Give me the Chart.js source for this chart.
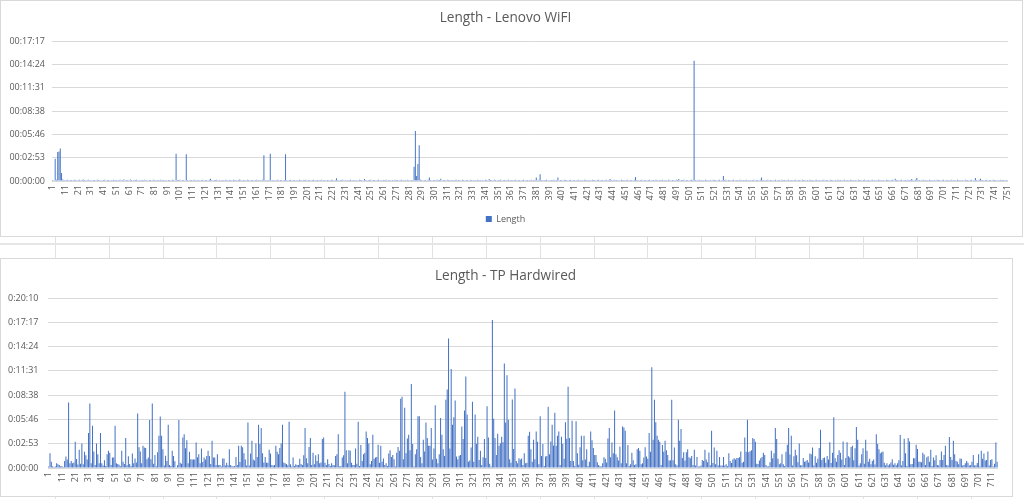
<!DOCTYPE html>
<html>
<head>
<meta charset="utf-8">
<title>Length - Lenovo WiFI / TP Hardwired</title>
<script src="https://cdn.jsdelivr.net/npm/chart.js@4.4.0/dist/chart.umd.min.js"></script>
<style>
    html, body { margin: 0; padding: 0; background: #fff; }
    body { width: 1024px; height: 499px; overflow: hidden; position: relative; }
    .sheet-v { position: absolute; top: 0; width: 1px; height: 499px; background: #e1e1e1; }
    .sheet-h { position: absolute; left: 0; width: 1024px; background: #e6e6e6; }
    .chart-box { position: absolute; box-sizing: border-box; border: 1px solid #d9d9d9; background: #fff; }
    canvas { position: absolute; left: 0; }
</style>
</head>
<body>
<div class="sheet-h" style="top:243px;height:2px"></div>
<div class="chart-box" style="left:0;top:0;width:1023px;height:237px"></div>
<div class="chart-box" style="left:0;top:258px;width:1013px;height:239px"></div>
<canvas id="wifiChart" width="1022" height="236" style="top:0"></canvas>
<canvas id="wiredChart" width="1012" height="238" style="top:258px"></canvas>

<script>
// ---- data (seconds) ----
const wifiLength = [
    7,6,165,9,215,218,240,60,12,8,6,7,9,6,8,7,6,10,7,6,8,9,6,7,12,
    8,6,7,9,6,7,6,8,7,6,9,7,6,8,6,7,9,6,7,8,6,7,6,9,7,
    8,6,7,9,6,7,11,6,8,7,6,11,7,6,8,7,9,6,7,6,8,7,9,6,7,
    6,8,7,6,9,7,6,8,7,6,9,7,8,6,7,6,8,7,6,9,7,6,202,8,7,
    9,6,7,8,6,198,7,6,8,7,6,9,7,6,8,7,6,7,9,6,8,7,6,9,16,
    7,6,8,7,9,6,7,6,8,7,6,9,7,6,8,7,6,9,7,8,6,7,12,7,6,
    8,7,6,9,7,6,8,7,6,7,9,6,7,8,6,9,190,7,6,8,7,202,6,7,8,
    6,7,9,6,8,7,6,7,198,8,6,7,9,6,7,8,6,7,6,9,7,6,8,7,9,
    6,7,8,6,7,9,6,8,7,6,7,9,6,8,7,6,7,8,6,9,7,6,8,20,7,
    6,8,7,9,6,7,6,8,7,9,6,7,8,6,7,6,9,7,8,6,14,7,6,8,7,
    9,6,7,8,6,7,9,6,7,6,8,7,9,6,7,8,6,7,6,9,7,8,6,7,9,
    6,7,8,6,9,7,6,8,7,106,371,37,126,265,9,7,6,8,7,6,9,25,7,6,8,
    7,6,9,7,8,16,6,7,8,6,9,7,6,8,7,6,7,9,6,8,7,6,9,7,6,
    8,7,6,9,7,6,8,7,6,9,7,8,6,7,6,9,7,6,14,8,7,6,9,7,6,
    8,7,9,6,7,8,6,7,9,6,8,7,6,7,9,6,8,7,6,7,9,6,8,7,6,
    7,9,6,8,7,25,6,9,50,7,6,8,7,9,6,7,6,8,7,9,6,7,25,6,8,
    7,6,9,7,8,6,7,9,6,8,7,6,7,9,6,8,7,6,9,7,8,6,7,6,9,
    7,8,6,7,9,6,8,7,6,7,9,6,8,14,7,6,9,7,8,6,7,6,9,7,8,
    6,7,9,6,8,7,6,9,30,7,8,6,7,9,6,8,7,6,7,9,6,8,7,6,9,
    7,6,8,7,9,6,7,8,6,9,7,6,8,7,6,9,7,14,6,8,7,9,6,7,8,
    6,7,9,7,890,8,6,7,9,6,8,7,6,9,7,8,6,7,6,9,7,8,6,7,9,
    6,8,37,7,9,6,7,8,6,7,9,6,8,7,6,9,7,6,8,7,9,6,7,8,6,
    7,9,6,8,7,6,9,25,7,8,6,7,9,6,8,7,6,7,9,6,8,7,6,9,7,
    8,6,7,9,6,8,7,6,7,9,6,8,7,6,9,7,8,6,7,6,9,7,8,6,7,
    9,6,8,7,6,7,9,6,8,7,6,9,7,8,6,7,6,9,7,8,6,7,9,6,8,
    7,6,9,7,8,6,7,6,9,7,8,6,7,9,6,8,7,6,7,9,6,8,7,6,9,
    7,8,6,7,6,9,7,8,6,7,9,6,16,7,8,6,7,9,6,8,7,6,9,7,8,
    14,7,6,9,22,7,8,6,7,9,6,8,7,6,9,7,8,6,7,6,9,7,8,6,7,
    9,6,8,7,6,7,9,6,8,7,6,9,7,8,6,7,6,9,7,8,6,7,9,6,8,
    22,7,6,9,16,7,8,6,7,9,6,8,7,6,9,7,8,6,7,6,9,7,8,6,7,
    8
];

const wiredLength = [
    10,105,45,12,8,10,33,26,22,12,14,8,50,81,60,466,33,50,33,40,
    186,64,25,129,30,174,26,115,91,60,249,459,33,301,117,22,174,98,33,249,
    33,17,55,15,98,122,108,22,74,74,301,33,29,24,12,122,45,29,213,20,
    84,29,15,103,33,67,40,387,148,117,33,158,146,143,62,74,342,62,459,30,
    93,12,112,229,366,229,134,17,88,50,308,22,15,122,86,48,5,20,342,38,
    31,217,241,141,198,33,115,62,60,60,60,182,76,98,33,139,43,74,60,86,
    122,86,29,194,74,74,22,98,22,22,10,67,67,17,38,20,134,22,14,10,
    15,79,22,158,43,158,148,105,60,17,323,17,103,194,60,53,174,79,308,170,
    284,105,40,79,38,38,129,103,22,17,22,158,115,98,143,174,308,40,33,29,
    20,330,26,10,74,15,26,22,22,65,29,22,91,284,70,33,150,213,22,108,
    26,91,50,98,33,40,206,217,38,22,62,29,15,33,22,20,86,98,241,10,
    14,74,91,543,127,33,127,122,38,22,22,139,30,330,14,163,50,98,108,260,
    213,174,26,50,237,65,74,79,165,38,158,45,67,22,33,14,103,127,79,93,
    62,10,108,150,122,492,507,62,428,105,210,237,127,598,170,10,98,134,368,368,
    79,33,201,117,323,213,158,158,284,60,139,447,65,33,98,356,237,134,86,485,
    559,922,139,705,308,361,480,81,62,88,93,296,206,409,652,380,45,53,146,471,
    45,380,172,222,57,122,22,76,206,72,440,217,30,10,1054,351,213,93,244,158,
    177,222,184,743,323,660,344,62,38,488,136,566,50,33,69,60,67,22,105,33,
    38,229,258,134,45,201,62,260,186,26,368,86,170,14,81,86,435,98,189,308,
    160,394,158,229,260,22,222,172,65,325,208,578,213,50,337,50,14,332,105,24,
    148,229,55,229,60,134,14,45,260,198,143,93,93,41,22,15,10,33,76,65,
    40,210,284,76,182,105,409,98,76,53,153,33,296,289,265,33,163,14,26,108,
    55,22,26,134,143,122,26,33,74,148,81,65,249,115,717,201,485,325,229,201,
    186,22,163,115,194,127,93,53,55,485,55,146,26,17,344,194,277,72,112,53,
    112,134,76,69,86,22,129,17,79,10,10,17,57,50,129,60,41,110,20,265,
    36,146,26,122,17,79,17,17,79,17,26,12,105,50,36,60,69,60,72,72,
    76,117,38,45,217,115,344,112,120,127,213,206,186,31,29,53,69,79,108,93,
    22,10,12,41,122,69,105,284,206,65,26,33,98,26,14,115,165,284,96,229,
    17,84,129,91,41,174,19,19,72,45,48,57,40,103,98,146,17,84,38,65,
    143,272,57,72,74,38,86,60,184,36,108,361,69,45,93,127,108,60,189,22,
    72,184,84,74,150,158,55,141,292,201,17,33,98,141,30,201,122,45,65,26,
    50,60,25,241,170,134,105,112,117,38,20,33,17,26,40,62,24,33,20,33,
    55,234,17,50,208,105,14,213,189,26,29,69,69,165,136,45,45,41,108,96,
    22,76,84,45,129,14,74,55,91,22,17,57,117,57,93,158,22,17,220,79,
    57,194,98,50,45,26,67,65,17,22,33,50,38,17,22,45,93,17,20,36,
    98,10,122,65,103,53,57,117,17,57,62,10,31,182,45
];

// row numbers used as categories
const wifiCategories = Array.from({ length: wifiLength.length }, (_, k) => String(k + 1));
const wiredCategories = Array.from({ length: wiredLength.length }, (_, k) => String(k + 1));

// Excel time axis: major unit 0.002 day = 172.8 s
const TICK_STEP = 172.8;
const wifiTickLabels = ['00:00:00', '00:02:53', '00:05:46', '00:08:38', '00:11:31', '00:14:24', '00:17:17'];
const wiredTickLabels = ['0:00:00', '0:02:53', '0:05:46', '0:08:38', '0:11:31', '0:14:24', '0:17:17', '0:20:10'];

const BAR_BLUE = '#4472C4';
const TEXT_GREY = '#595959';
const GRID_GREY = '#d9d9d9';
const FONT = "'Open Sans', 'Noto Sans', sans-serif";

/**
 * Build one Excel-style column chart
 */
function makeChart(id, cats, values, tickLabels, cfg) {
    const ctx = document.getElementById(id);
    return new Chart(ctx, {
        type: 'bar',
        data: {
            labels: cats,
            datasets: [{
                label: 'Length',
                data: values,
                backgroundColor: BAR_BLUE,
                borderWidth: 0,
                categoryPercentage: 0.85,
                barPercentage: 0.9
            }]
        },
        options: {
            responsive: false,
            animation: false,
            events: [],
            layout: { padding: cfg.padding },
            plugins: {
                title: {
                    display: true,
                    text: cfg.title,
                    color: TEXT_GREY,
                    font: { family: FONT, size: 13.6, weight: 'normal' },
                    padding: { top: 10, bottom: cfg.titleGap }
                },
                legend: {
                    display: cfg.legend,
                    position: 'bottom',
                    labels: {
                        boxWidth: 6,
                        boxHeight: 6,
                        padding: 4,
                        color: TEXT_GREY,
                        font: { family: FONT, size: 9 }
                    }
                },
                tooltip: { enabled: false }
            },
            scales: {
                x: {
                    grid: { display: false, drawTicks: false },
                    border: { display: true, color: GRID_GREY },
                    ticks: {
                        autoSkip: false,
                        minRotation: 90,
                        maxRotation: 90,
                        padding: 4,
                        color: TEXT_GREY,
                        font: { family: FONT, size: 9 },
                        callback: (v, i) => (i % 10 === 0 ? cats[i] : '')
                    },
                    afterFit: s => { s.height = cfg.xHeight; }
                },
                y: {
                    min: 0,
                    max: (tickLabels.length - 1) * TICK_STEP,
                    grid: { color: GRID_GREY, drawTicks: false },
                    border: { display: false },
                    ticks: {
                        padding: cfg.yPad,
                        color: TEXT_GREY,
                        font: { family: FONT, size: 9 },
                        callback: (v, i) => tickLabels[i]
                    },
                    afterBuildTicks: s => {
                        s.ticks = tickLabels.map((t, k) => ({ value: k * TICK_STEP }));
                    },
                    afterFit: s => { s.width = cfg.yWidth; }
                }
            }
        }
    });
}

makeChart('wifiChart', wifiCategories, wifiLength, wifiTickLabels, {
    title: 'Length - Lenovo WiFI',
    titleGap: 14.7,
    legend: true,
    padding: { left: 0, right: 11, top: 0, bottom: 2.5 },
    xHeight: 29.5,
    yWidth: 52,
    yPad: 7
});

makeChart('wiredChart', wiredCategories, wiredLength, wiredTickLabels, {
    title: 'Length - TP Hardwired',
    titleGap: 13.7,
    legend: false,
    padding: { left: 0, right: 1, top: 0, bottom: 0 },
    xHeight: 28,
    yWidth: 48,
    yPad: 9.5
});

// spreadsheet column lines showing between the two charts
const sheetColumns = [55, 109, 163, 216, 270, 324, 378, 432, 486, 540, 594, 647, 701, 755, 809, 863, 917, 971];
sheetColumns.forEach(x => {
    const d = document.createElement('div');
    d.className = 'sheet-v';
    d.style.left = x + 'px';
    document.body.insertBefore(d, document.body.firstChild);
});
</script>
</body>
</html>
